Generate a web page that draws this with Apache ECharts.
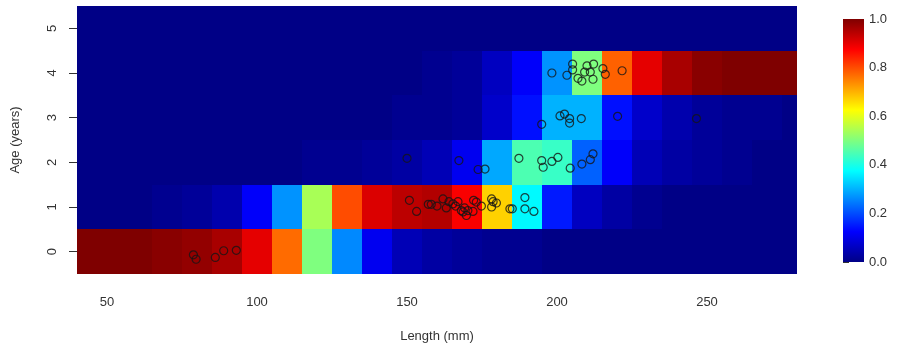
<!DOCTYPE html>
<html>
<head>
<meta charset="utf-8">
<script src="https://cdn.jsdelivr.net/npm/echarts@6/dist/echarts.min.js"></script>
<style>
  html, body { margin: 0; padding: 0; background: #fff; }
  #chart { width: 906px; height: 348px; }
</style>
</head>
<body>
<div id="chart"></div>
<script>
// bin centres (mm), 10 mm wide
const lengths = [40, 50, 60, 70, 80, 90, 100, 110, 120, 130, 140, 150, 160,
  170, 180, 190, 200, 210, 220, 230, 240, 250, 260, 270, 280];
const ages = [0, 1, 2, 3, 4, 5];

// probability of each age given length (one array per age)
const probAge0 = [1.00, 1.00, 1.00, 0.99, 0.98, 0.96, 0.90, 0.77, 0.50, 0.26, 0.11, 0.05, 0.03,
  0.02, 0.01, 0.01, 0, 0, 0, 0, 0, 0, 0, 0, 0];
const probAge1 = [0, 0, 0, 0.01, 0.02, 0.04, 0.12, 0.27, 0.54, 0.80, 0.91, 0.94, 0.95,
  0.88, 0.67, 0.37, 0.15, 0.06, 0.03, 0.01, 0, 0, 0, 0, 0];
const probAge2 = [0, 0, 0, 0, 0, 0, 0, 0, 0.01, 0.01, 0.02, 0.03, 0.05,
  0.11, 0.29, 0.45, 0.43, 0.22, 0.12, 0.05, 0.03, 0.02, 0.01, 0, 0];
const probAge3 = [0, 0, 0, 0, 0, 0, 0, 0, 0, 0, 0, 0.01, 0.01,
  0.02, 0.07, 0.14, 0.30, 0.30, 0.14, 0.07, 0.04, 0.02, 0.01, 0.01, 0];
const probAge4 = [0, 0, 0, 0, 0, 0, 0, 0, 0, 0, 0, 0, 0.01,
  0.02, 0.06, 0.12, 0.27, 0.50, 0.78, 0.90, 0.96, 0.99, 1.00, 1.00, 1.00];
const probAge5 = [0, 0, 0, 0, 0, 0, 0, 0, 0, 0, 0, 0, 0,
  0, 0, 0, 0, 0, 0, 0, 0, 0, 0, 0, 0];

// observed fish: length (mm), age (jittered)
const fishLength = [78.8, 79.7, 86.1, 88.9, 93.1,
  150.8, 153.2, 157.1, 158.1, 160.0, 162.0, 163.1, 164.0, 165.3, 166.2, 167.0, 168.1,
  168.7, 169.2, 169.8, 170.3, 172.0, 172.2, 173.1, 174.8, 178.2, 178.7, 179.8, 178.2,
  184.3, 185.1, 189.3, 189.3, 192.3,
  150.0, 167.3, 173.7, 176.0, 187.3, 194.9, 195.4, 198.3, 200.3, 204.4, 208.3, 211.1, 212.0,
  194.9, 201.0, 202.5, 204.2, 204.2, 208.1, 220.2, 246.5,
  198.3, 203.3, 205.2, 205.2, 207.0, 208.3, 209.2, 210.0, 211.1, 212.2, 212.0, 215.3, 216.1, 221.7];
const fishAge = [-0.07, -0.17, -0.13, 0.02, 0.03,
  1.15, 0.90, 1.06, 1.06, 1.02, 1.18, 0.98, 1.12, 1.07, 1.02, 1.12, 0.92,
  0.89, 0.98, 0.81, 0.92, 0.90, 1.15, 1.11, 1.02, 1.18, 1.12, 1.09, 1.00,
  0.96, 0.96, 1.21, 0.96, 0.90,
  2.09, 2.04, 1.84, 1.85, 2.09, 2.04, 1.89, 2.02, 2.11, 1.87, 1.96, 2.06, 2.19,
  2.85, 3.04, 3.08, 2.98, 2.88, 2.98, 3.03, 2.98,
  4.00, 3.95, 4.20, 4.07, 3.88, 3.82, 4.02, 4.16, 4.02, 4.20, 3.86, 4.10, 3.97, 4.05];

const xTicks = [50, 100, 150, 200, 250];
const yTicks = [0, 1, 2, 3, 4, 5];

const jet = ['#000086', '#0000FF', '#007FFF', '#00FFFF', '#7FFF7F',
  '#FFFF00', '#FF7F00', '#FF0000', '#7F0000'];

const probRows = [probAge0, probAge1, probAge2, probAge3, probAge4, probAge5];
let cells = [];
ages.forEach((a, i) => {
  lengths.forEach((len, j) => {
    cells.push([len, a, probRows[i][j]]);
  });
});
const points = fishLength.map((l, i) => [l, fishAge[i]]);

const binHalf = 5;
const font = 'Liberation Sans, Arial, sans-serif';
const txt = '#333';

// gradient for the colour key, bottom (0) to top (1)
const keyGradient = new echarts.graphic.LinearGradient(0, 1, 0, 0,
  jet.map((c, i) => ({ offset: i / (jet.length - 1), color: c })));

const myChart = echarts.init(document.getElementById('chart'));
myChart.setOption({
  animation: false,
  grid: [
    { left: 77, right: 109, top: 6, bottom: 73 },
    { left: 843, width: 21, top: 19, height: 243 } // colour key
  ],
  visualMap: {
    type: 'continuous',
    show: false,
    min: 0,
    max: 1,
    dimension: 2,
    seriesIndex: 0,
    inRange: { color: jet }
  },
  xAxis: [
    {
      gridIndex: 0,
      type: 'value',
      min: 40,
      max: 280,
      name: 'Length (mm)',
      nameLocation: 'middle',
      nameGap: 56,
      nameTextStyle: { color: txt, fontSize: 13, fontFamily: font },
      axisLine: { show: false },
      axisTick: { show: true, length: 8, customValues: xTicks, lineStyle: { color: '#333' } },
      axisLabel: { customValues: xTicks, margin: 22, color: txt, fontSize: 13, fontFamily: font },
      splitLine: { show: false }
    },
    {
      gridIndex: 1,
      type: 'value',
      show: false,
      min: 0,
      max: 1,
      axisLine: { show: false },
      axisTick: { show: false },
      axisLabel: { show: false },
      splitLine: { show: false }
    }
  ],
  yAxis: [
    {
      gridIndex: 0,
      type: 'value',
      min: -0.5,
      max: 5.5,
      name: 'Age (years)',
      nameLocation: 'middle',
      nameGap: 55,
      nameTextStyle: { color: txt, fontSize: 13, fontFamily: font },
      axisLine: { show: false },
      axisTick: { show: true, length: 8, customValues: yTicks, lineStyle: { color: '#333' } },
      axisLabel: { customValues: yTicks, rotate: 90, margin: 18, color: txt, fontSize: 13, fontFamily: font },
      splitLine: { show: false }
    },
    {
      gridIndex: 1,
      type: 'value',
      position: 'right',
      min: 0,
      max: 1,
      interval: 0.2,
      axisLine: { show: false },
      axisTick: { show: true, length: 6, lineStyle: { color: '#333' } },
      axisLabel: {
        margin: 5,
        color: txt,
        fontSize: 13,
        fontFamily: font,
        formatter: (v) => v.toFixed(1)
      },
      splitLine: { show: false }
    }
  ],
  series: [
    {
      type: 'custom',
      xAxisIndex: 0,
      yAxisIndex: 0,
      clip: true,
      renderItem: function (params, api) {
        let x = api.value(0);
        let y = api.value(1);
        let p0 = api.coord([x - binHalf, y + 0.5]);
        let p1 = api.coord([x + binHalf, y - 0.5]);
        let x0 = Math.round(p0[0]), y0 = Math.round(p0[1]);
        let x1 = Math.round(p1[0]), y1 = Math.round(p1[1]);
        return {
          type: 'rect',
          shape: { x: x0, y: y0, width: x1 - x0, height: y1 - y0 },
          style: { fill: api.visual('color') }
        };
      },
      data: cells
    },
    {
      type: 'scatter',
      xAxisIndex: 0,
      yAxisIndex: 0,
      symbol: 'circle',
      symbolSize: 8,
      itemStyle: { color: 'transparent', borderColor: '#151515', borderWidth: 1.2 },
      data: points
    },
    {
      // colour key bar, spans 0..1 on the key axis
      type: 'custom',
      xAxisIndex: 1,
      yAxisIndex: 1,
      silent: true,
      renderItem: function (params, api) {
        let p0 = api.coord([0, api.value(1)]);
        let p1 = api.coord([1, api.value(0)]);
        return {
          type: 'rect',
          shape: { x: p0[0], y: p0[1], width: p1[0] - p0[0], height: p1[1] - p0[1] },
          style: { fill: keyGradient }
        };
      },
      data: [[0, 1]]
    }
  ]
});
window.addEventListener('resize', () => {
  myChart.resize();
});
</script>
</body>
</html>
